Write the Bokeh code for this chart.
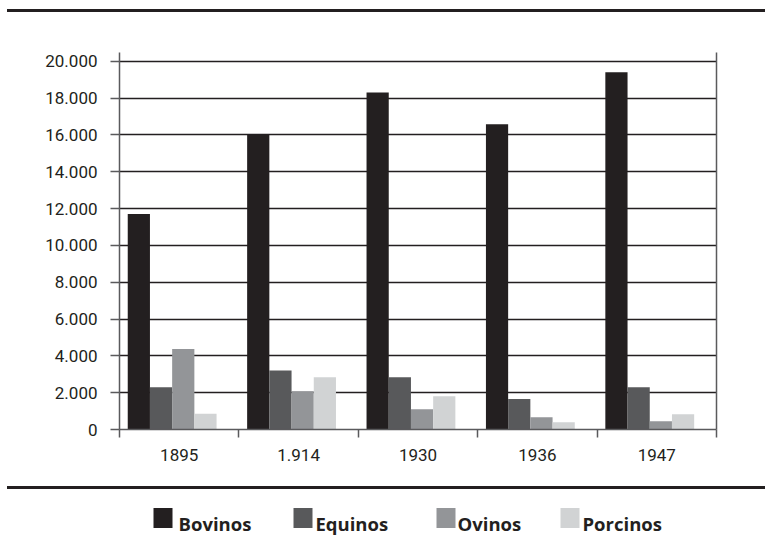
from bokeh.plotting import figure
from bokeh.models import Range1d, LinearAxis, FixedTicker, ColumnDataSource, Div
from bokeh.transform import dodge
from bokeh.layouts import column
from bokeh.core.properties import value
from bokeh.embed import file_html
from bokeh.resources import INLINE

# ---- data -------------------------------------------------------------
years = ["1895", "1.914", "1930", "1936", "1947"]
bovinos = [11700, 16000, 18300, 16570, 19400]
equinos = [2300, 3200, 2840, 1650, 2300]
ovinos = [4370, 2080, 1100, 670, 450]
porcinos = [850, 2840, 1800, 400, 830]
series = ["Bovinos", "Equinos", "Ovinos", "Porcinos"]
y_ticks = [0, 2000, 4000, 6000, 8000, 10000, 12000, 14000, 16000, 18000, 20000]
y_labels = ["0", "2.000", "4.000", "6.000", "8.000", "10.000", "12.000",
            "14.000", "16.000", "18.000", "20.000"]

# ---- styles -----------------------------------------------------------
colors = ["#231f20", "#58595b", "#939598", "#d1d3d4"]
offsets = [-0.338, -0.152, 0.034, 0.220]
bar_w = 0.186
ink = "#231f20"
axis_gray = "#5a5a5c"
W = 765
BL, BR = 119, 49   # frame borders (left / right)

# ---- top rule ---------------------------------------------------------
top_rule = Div(text="", width=W, height=12, margin=(0, 0, 0, 0),
               styles={"background": f"linear-gradient({ink},{ink}) 7px 9px / 758px 3px no-repeat"})

# ---- main chart -------------------------------------------------------
n = len(years)
centers = [i + 0.5 for i in range(n)]   # category slots on the x scale
p = figure(width=W, height=474,
           x_range=Range1d(0, n),
           y_range=Range1d(0, 20472),
           x_axis_location=None,
           output_backend="svg", toolbar_location=None,
           min_border_left=BL, min_border_right=BR,
           min_border_top=40, min_border_bottom=57)
p.outline_line_color = None
p.xgrid.grid_line_color = None

yt = FixedTicker(ticks=y_ticks)
p.yaxis.ticker = yt
p.ygrid.ticker = yt
p.ygrid.grid_line_color = ink
p.ygrid.grid_line_width = 1.4
p.yaxis.major_label_overrides = {t: l for t, l in zip(y_ticks, y_labels)}
p.yaxis.major_tick_in = 0
p.yaxis.major_tick_out = 9
p.yaxis.minor_tick_line_color = None
p.yaxis.major_tick_line_color = axis_gray
p.yaxis.major_tick_line_width = 1.5
p.yaxis.axis_line_color = axis_gray
p.yaxis.axis_line_width = 1.5
p.yaxis.major_label_standoff = 13
p.yaxis.major_label_text_font = "Roboto"
p.yaxis.major_label_text_font_size = "17px"
p.yaxis.major_label_text_color = ink

xt = FixedTicker(ticks=centers, minor_ticks=list(range(n + 1)))
xaxis = LinearAxis(ticker=xt,
                   major_label_overrides={c: y for c, y in zip(centers, years)},
                   major_tick_line_color=None,
                   minor_tick_in=0, minor_tick_out=8,
                   minor_tick_line_color=axis_gray, minor_tick_line_width=1.5,
                   axis_line_color=axis_gray, axis_line_width=1.5,
                   major_label_standoff=11,
                   major_label_text_font="Roboto",
                   major_label_text_font_size="17px",
                   major_label_text_color=ink)
p.add_layout(xaxis, "below")

raxis = LinearAxis(ticker=FixedTicker(ticks=[]), major_tick_line_color=None,
                   minor_tick_line_color=None, major_label_text_font_size="0px",
                   axis_line_color=axis_gray, axis_line_width=1.5)
p.add_layout(raxis, "right")

src = ColumnDataSource(dict(year=years, pos=centers, Bovinos=bovinos,
                            Equinos=equinos, Ovinos=ovinos, Porcinos=porcinos))
for name, col, off in zip(series, colors, offsets):
    p.vbar(x=dodge("pos", off), top=name, width=bar_w,
           source=src, fill_color=col, line_color=None)

# ---- bottom rule ------------------------------------------------------
bot_rule = Div(text="", width=W, height=3, margin=(0, 0, 0, 0),
               styles={"background": f"linear-gradient({ink},{ink}) 7px 0px / 758px 3px no-repeat"})

# ---- legend -------------------------------------------------------------
LH = 54
leg = figure(width=W, height=LH, x_range=Range1d(BL, W - BR), y_range=Range1d(LH, 0),
             output_backend="svg", toolbar_location=None,
             min_border_left=BL, min_border_right=BR,
             min_border_top=0, min_border_bottom=0, outline_line_color=None,
             x_axis_location=None, y_axis_location=None)
leg.grid.visible = False
sw_x = [153, 293, 436, 560]
tx_x = [178, 315, 457, 582]
leg.quad(left=sw_x, right=[x + 19 for x in sw_x], top=[18.5] * 4,
         bottom=[38.5] * 4, fill_color=colors, line_color=None)
leg.text(x=tx_x, y=[34.3] * 4, text=series, text_font=value("Open Sans"),
         text_font_style="bold", text_font_size="18.5px", text_color=ink,
         text_baseline="alphabetic", text_align="left")

layout = column(top_rule, p, bot_rule, leg, spacing=0)
open("out.html", "w").write(file_html(layout, INLINE))
